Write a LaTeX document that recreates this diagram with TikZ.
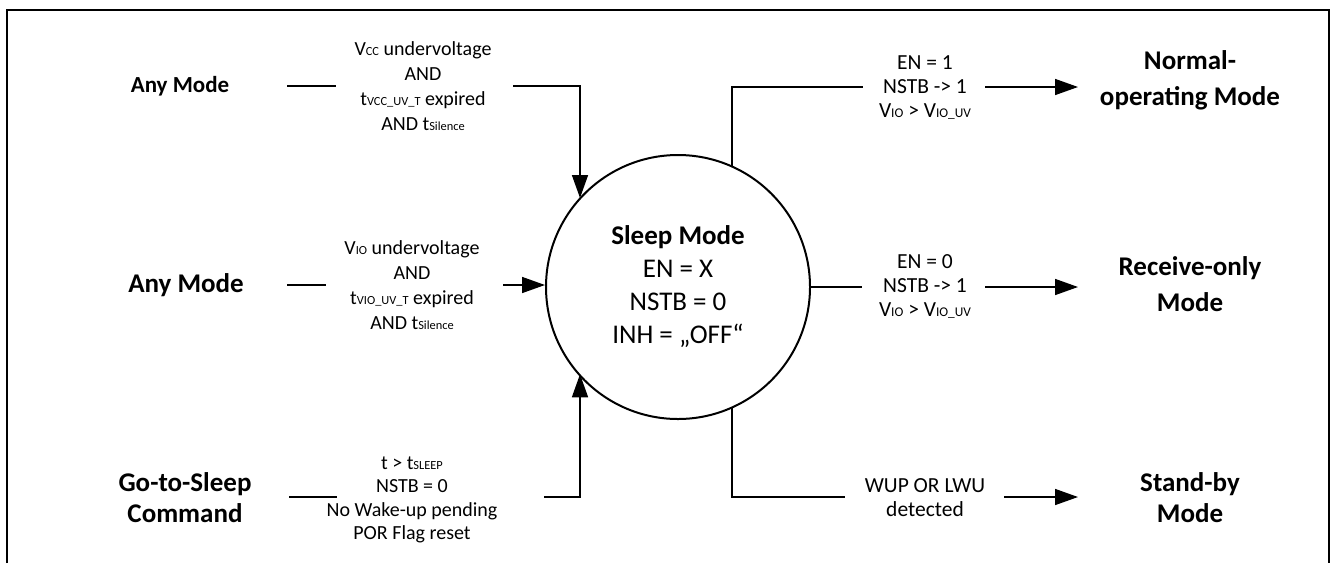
\documentclass[tikz,border=0pt]{standalone}
\usepackage{fontspec}
\usepackage{graphicx}
\setmainfont{Carlito}
\usetikzlibrary{arrows.meta}
\newcommand\sbs[1]{\scalebox{0.62}{#1}}
\tikzset{
  lbl/.style={font=\fontsize{20}{25}\selectfont, align=center, inner sep=0pt},
  rlbl/.style={font=\fontsize{21.5}{24}\selectfont, align=center, inner sep=0pt},
  modetxt/.style={font=\bfseries\fontsize{27}{36}\selectfont, align=center, inner sep=0pt},
  conn/.style={line width=1.5pt},
  arr/.style={conn, -{Triangle[length=23pt,width=16pt]}},
  frame/.style={line width=2pt}
}
\begin{document}
\begin{tikzpicture}[x=1pt,y=-1pt]
\useasboundingbox (0,0) rectangle (1332,563);
\draw[frame] (7,563) -- (7,9.5) -- (1329,9.5) -- (1329,563);

% central state
\node[circle, draw, line width=2pt, minimum size=264pt, inner sep=0pt,
      font=\fontsize{27}{33}\selectfont, align=center] (sleep) at (678,287)
  {\textbf{Sleep Mode}\\EN = X\\NSTB = 0\\INH = „OFF“};

% left sources
\node[modetxt, font=\bfseries\fontsize{23}{30}\selectfont] (am1) at (180,86) {Any Mode};
\node[modetxt] (am2) at (186,285) {Any Mode};
\node[modetxt, font=\bfseries\fontsize{27}{31}\selectfont] (gts) at (185,498) {Go-to-Sleep\\Command};

% left conditions
\node[lbl] (c1) at (423,86) {V\sbs{CC} undervoltage\\AND\\t\sbs{VCC\_UV\_T} expired\\AND t\sbs{Silence}};
\node[lbl] (c2) at (412,285) {V\sbs{IO} undervoltage\\AND\\t\sbs{VIO\_UV\_T} expired\\AND t\sbs{Silence}};
\node[lbl, font=\fontsize{20}{23.5}\selectfont] (c3) at (412,500) {t > t\sbs{SLEEP}\\NSTB = 0\\No Wake-up pending\\POR Flag reset};

% right targets
\node[modetxt] (nm) at (1190,80) {Normal-\\operating Mode};
\node[modetxt] (ro) at (1190,284) {Receive-only\\Mode};
\node[modetxt, font=\bfseries\fontsize{27}{31}\selectfont] (sb) at (1190,498) {Stand-by\\Mode};

% right conditions
\node[rlbl] (r1) at (925,87) {EN = 1\\NSTB -> 1\\V\sbs{IO} > V\sbs{IO\_UV}};
\node[rlbl] (r2) at (925,286) {EN = 0\\NSTB -> 1\\V\sbs{IO} > V\sbs{IO\_UV}};
\node[rlbl] (r3) at (925,498) {WUP OR LWU\\detected};

% connector end points
\coordinate (p1a) at (287,86);  \coordinate (p1b) at (336,86);
\coordinate (p1c) at (513,86);  \coordinate (p1d) at (580,86);
\coordinate (p2a) at (287,285); \coordinate (p2b) at (326,285);
\coordinate (p2c) at (503,285);
\coordinate (p3a) at (289,497); \coordinate (p3b) at (337,497);
\coordinate (p3c) at (544,497); \coordinate (p3d) at (580,497);

\coordinate (q1a) at (732,87);  \coordinate (q1b) at (863,87);
\coordinate (q1c) at (985,87);  \coordinate (q1d) at (1078,87);
\coordinate (q2b) at (862,287);
\coordinate (q2c) at (985,287); \coordinate (q2d) at (1078,287);
\coordinate (q3a) at (732,497); \coordinate (q3b) at (845,497);
\coordinate (q3c) at (1004,497);\coordinate (q3d) at (1078,497);

% left connectors
\draw[conn] (p1a) -- (p1b);
\draw[arr] (p1c) -- (p1d) -- (p1d |- sleep.138.1);
\draw[conn] (p2a) -- (p2b);
\draw[arr] (p2c) -- (p2c -| sleep.west);
\draw[conn] (p3a) -- (p3b);
\draw[arr] (p3c) -- (p3d) -- (p3d |- sleep.221.9);

% right connectors
\draw[conn] (q1a |- sleep.65.8) -- (q1a) -- (q1b);
\draw[arr] (q1c) -- (q1d);
\draw[conn] (sleep.east) -- (q2b);
\draw[arr] (q2c) -- (q2d);
\draw[conn] (q3a |- sleep.-65.8) -- (q3a) -- (q3b);
\draw[arr] (q3c) -- (q3d);
\end{tikzpicture}
\end{document}
